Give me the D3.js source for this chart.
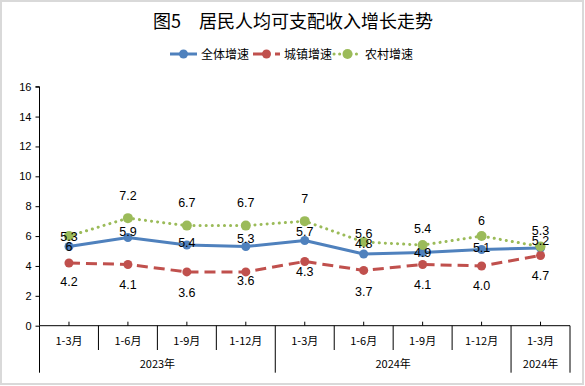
<!DOCTYPE html>
<html>
<head>
<meta charset="utf-8">
<script src="https://cdn.jsdelivr.net/npm/d3@7"></script>
<style>
  body { margin: 0; background: #fff; }
  svg { display: block; font-family: "Noto Sans CJK SC", "Liberation Sans", sans-serif; }
</style>
</head>
<body>
<svg id="chart" width="585" height="386"></svg>
<script>
// 数据
const periods = ["1-3月", "1-6月", "1-9月", "1-12月", "1-3月", "1-6月", "1-9月", "1-12月", "1-3月"];
const years = [
  { label: "2023年", from: 0, to: 4 },
  { label: "2024年", from: 4, to: 8 },
  { label: "2024年", from: 8, to: 9 }
];
const totalGrowth = [5.3, 5.9, 5.4, 5.3, 5.7, 4.8, 4.9, 5.1, 5.2];
const urbanGrowth = [4.2, 4.1, 3.6, 3.6, 4.3, 3.7, 4.1, 4.0, 4.7];
const ruralGrowth = [6.0, 7.2, 6.7, 6.7, 7.0, 5.6, 5.4, 6.0, 5.3];
// 数据标签（原图第一个点的标签互换了）
const totalLabels = ["6", "5.9", "5.4", "5.3", "5.7", "4.8", "4.9", "5.1", "5.2"];
const urbanLabels = ["4.2", "4.1", "3.6", "3.6", "4.3", "3.7", "4.1", "4.0", "4.7"];
const ruralLabels = ["5.3", "7.2", "6.7", "6.7", "7", "5.6", "5.4", "6", "5.3"];
const yTicks = [0, 2, 4, 6, 8, 10, 12, 14, 16];

// 样式与标签偏移（像素）
const series = [
  { name: "全体增速", values: totalGrowth, labels: totalLabels, color: "#4f81bd", dash: null, legendDash: null, r: 4.5,
    nudge: [0, -6, -3, -8, -9, -11, 0, -2, -8], legendX: 170 },
  { name: "城镇增速", values: urbanGrowth, labels: urbanLabels, color: "#c0504d", dash: "11,6", legendDash: "17,5", r: 4.5,
    nudge: [19, 20, 21, 9, 10, 21, 20, 20, 20], legendX: 253 },
  { name: "农村增速", values: ruralGrowth, labels: ruralLabels, color: "#9bbb59", dash: "0.1,6", legendDash: "0.1,5.5", r: 5,
    nudge: [0, -23, -23, -23, -23, -9, -17, -16, -16], legendX: 334 }
];

const svg = d3.select("#chart");

// 外框
svg.append("rect")
  .attr("x", 1).attr("y", 1).attr("width", 582).attr("height", 383)
  .attr("fill", "#fff").attr("stroke", "#d9d9d9").attr("stroke-width", 2);

const plotLeft = 39.5, plotRight = 570, plotTop = 86.7, plotBottom = 325.7;

const x = d3.scaleBand().domain(d3.range(periods.length)).range([plotLeft, plotRight]).padding(0);
const y = d3.scaleLinear().domain([0, 16]).range([plotBottom, plotTop]);
const cx = i => x(i) + x.bandwidth() / 2;

// 标题
svg.append("text")
  .attr("x", 293).attr("y", 28)
  .attr("text-anchor", "middle")
  .attr("font-size", 18)
  .attr("fill", "#000")
  .text("图5\u3000居民人均可支配收入增长走势");

// Y轴
const yAxis = svg.append("g")
  .attr("transform", `translate(${plotLeft},0)`)
  .call(d3.axisLeft(y).tickValues(yTicks).tickSize(4).tickPadding(4));
yAxis.select(".domain").attr("stroke", "#000").attr("d", `M-4,${plotTop}H0V${plotBottom}`);
yAxis.selectAll("text").attr("font-size", 11).attr("fill", "#000")
  .attr("font-family", "Liberation Sans, sans-serif");

// X轴
svg.append("line")
  .attr("x1", plotLeft).attr("x2", plotRight).attr("y1", plotBottom).attr("y2", plotBottom)
  .attr("stroke", "#000");
svg.selectAll(".xtick")
  .data(periods)
  .enter().append("line")
  .attr("x1", (d, i) => cx(i))
  .attr("x2", (d, i) => cx(i))
  .attr("y1", plotBottom).attr("y2", plotBottom - 4)
  .attr("stroke", "#000");

// 月份分隔线
svg.selectAll(".msep")
  .data(d3.range(periods.length + 1))
  .enter().append("line")
  .attr("x1", i => i < periods.length ? x(i) : plotRight)
  .attr("x2", i => i < periods.length ? x(i) : plotRight)
  .attr("y1", plotBottom)
  .attr("y2", i => years.some(g => g.from === i || g.to === i) ? 372.7 : 350)
  .attr("stroke", "#000");

svg.selectAll(".plabel")
  .data(periods)
  .enter().append("text")
  .attr("x", (d, i) => cx(i))
  .attr("y", 345)
  .attr("text-anchor", "middle")
  .attr("font-size", 11)
  .text(d => d);

svg.selectAll(".ylabel")
  .data(years)
  .enter().append("text")
  .attr("x", d => (x(d.from) + (d.to < periods.length ? x(d.to) : plotRight)) / 2)
  .attr("y", 368)
  .attr("text-anchor", "middle")
  .attr("font-size", 11)
  .text(d => d.label);

// 折线
const line = d3.line()
  .x((d, i) => cx(i))
  .y(d => y(d));

series.forEach(s => {
  svg.append("path")
    .datum(s.values)
    .attr("d", line)
    .attr("fill", "none")
    .attr("stroke", s.color)
    .attr("stroke-width", 3)
    .attr("stroke-linecap", s.dash && s.dash.startsWith("0.1") ? "round" : "butt")
    .attr("stroke-linejoin", "round")
    .attr("stroke-dasharray", s.dash);
});

series.forEach(s => {
  svg.selectAll(null)
    .data(s.values)
    .enter().append("circle")
    .attr("cx", (d, i) => cx(i))
    .attr("cy", d => y(d))
    .attr("r", s.r)
    .attr("fill", s.color);
});

// 数据标签
series.forEach(s => {
  svg.selectAll(null)
    .data(s.values)
    .enter().append("text")
    .attr("x", (d, i) => cx(i))
    .attr("y", (d, i) => y(d) + s.nudge[i] + 4.5)
    .attr("text-anchor", "middle")
    .attr("font-size", 12.5)
    .attr("font-family", "Liberation Sans, sans-serif")
    .attr("fill", "#000")
    .text((d, i) => s.labels[i]);
});

// 图例
series.forEach(s => {
  const g = svg.append("g").attr("transform", `translate(${s.legendX},54)`);
  g.append("line")
    .attr("x1", 0).attr("x2", 27).attr("y1", 0).attr("y2", 0)
    .attr("stroke", s.color).attr("stroke-width", 3)
    .attr("stroke-linecap", s.legendDash && s.legendDash.startsWith("0.1") ? "round" : "butt")
    .attr("stroke-dasharray", s.legendDash);
  g.append("circle").attr("cx", 13.5).attr("cy", 0).attr("r", s.r).attr("fill", s.color);
  g.append("text")
    .attr("x", 31).attr("y", 4.5)
    .attr("font-size", 12)
    .text(s.name);
});
</script>
</body>
</html>
